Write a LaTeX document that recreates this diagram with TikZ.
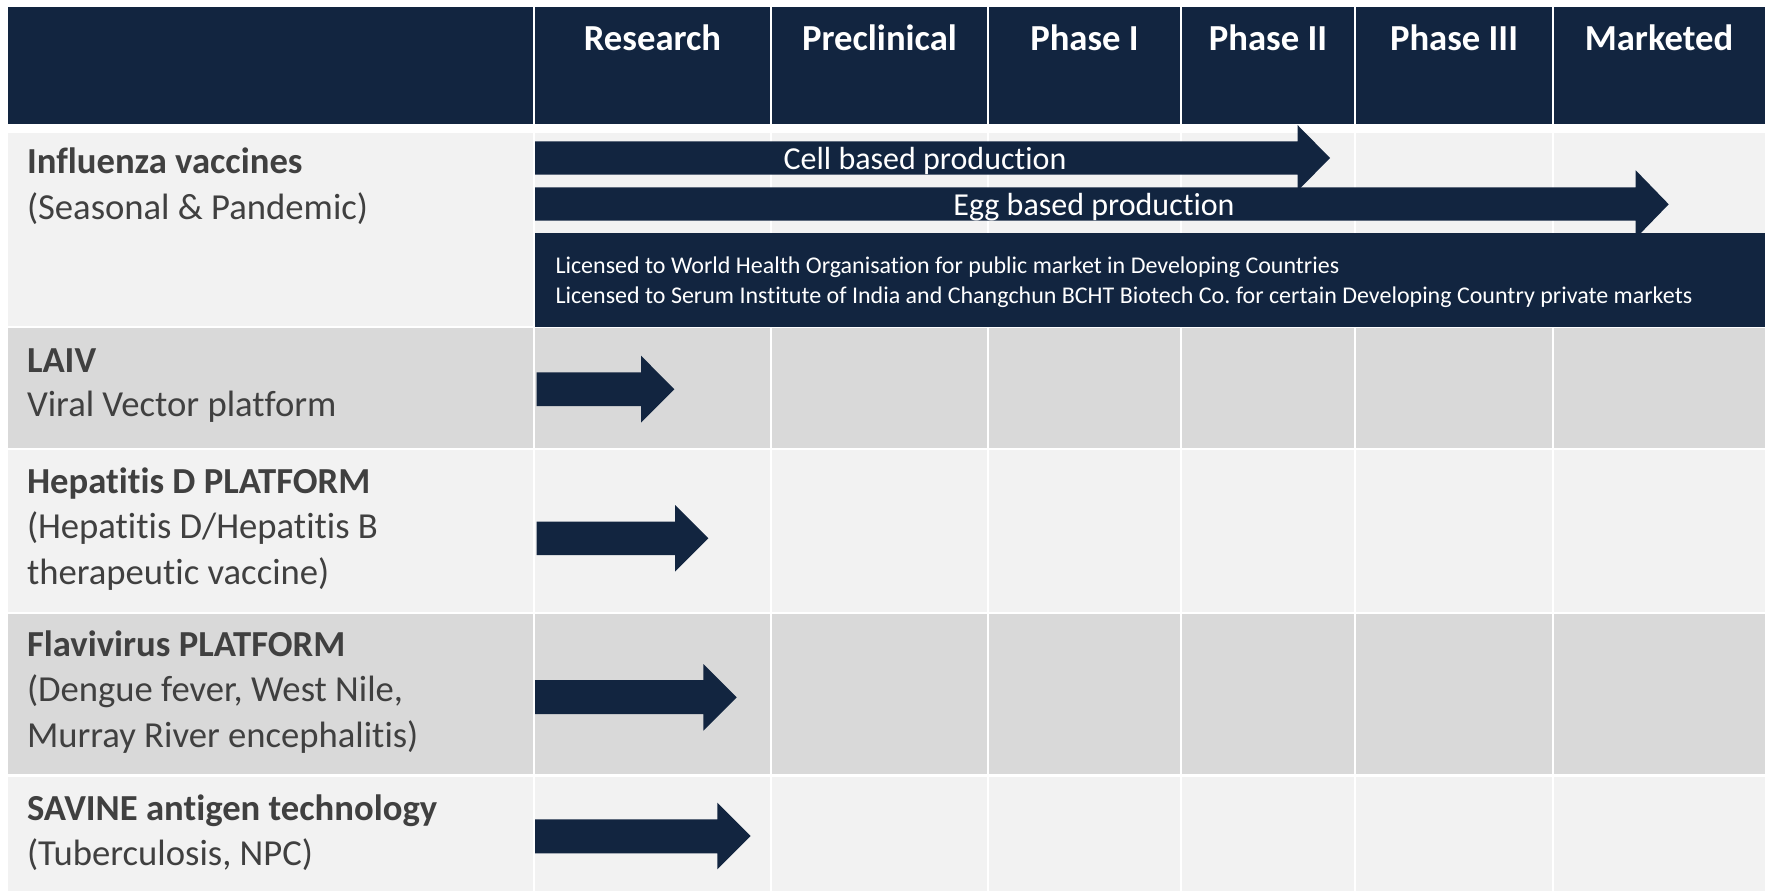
\documentclass[tikz,border=0pt]{standalone}
\usepackage{fontspec}
\setmainfont{Carlito}[Ligatures=NoCommon]
\frenchspacing

\tikzset{every picture/.style={line width=0.75pt}}
\tikzset{
	navyfill/.style={fill={rgb, 255:red, 18; green, 37; blue, 64 }, draw opacity=0},
	lightrow/.style={fill={rgb, 255:red, 242; green, 242; blue, 242 }, draw opacity=0},
	darkrow/.style={fill={rgb, 255:red, 217; green, 217; blue, 217 }, draw opacity=0},
	colsep/.style={draw={rgb, 255:red, 255; green, 255; blue, 255 }, line width=1.5pt},
	hdr/.style={color={rgb, 255:red, 255; green, 255; blue, 255 }, font=\bfseries\fontsize{27.5}{33}\selectfont, anchor=base, inner sep=0pt},
	lbl/.style={color={rgb, 255:red, 64; green, 64; blue, 64 }, font=\fontsize{27.5}{33}\selectfont, anchor=base west, inner sep=0pt},
	prod/.style={color={rgb, 255:red, 255; green, 255; blue, 255 }, font=\fontsize{24}{29}\selectfont, anchor=base, inner sep=0pt},
	lic/.style={color={rgb, 255:red, 255; green, 255; blue, 255 }, font=\fontsize{18}{21}\selectfont, anchor=base west, inner sep=0pt}
}

\begin{document}
\begin{tikzpicture}[x=0.75pt,y=0.75pt,yscale=-1,xscale=1]
	\useasboundingbox (0,0) rectangle (1765,891);

	%Shape: Rectangle [header band]
	\draw [navyfill] (8,7) rectangle (1765,124);
	%Shape: Rectangle [rows]
	\draw [lightrow] (8,133) rectangle (1765,325.5);
	\draw [darkrow] (8,328) rectangle (1765,447.5);
	\draw [lightrow] (8,450) rectangle (1765,611.5);
	\draw [darkrow] (8,613.5) rectangle (1765,774);
	\draw [lightrow] (8,777) rectangle (1765,891);
	%Straight Lines [column separators]
	\draw [colsep] (534,7) -- (534,891);
	\draw [colsep] (771,7) -- (771,891);
	\draw [colsep] (988,7) -- (988,891);
	\draw [colsep] (1181,7) -- (1181,891);
	\draw [colsep] (1355,7) -- (1355,891);
	\draw [colsep] (1553,7) -- (1553,891);

	%Shape: Right Arrow [cell based]
	\draw [navyfill] (535,141.3) -- (1297.5,141.3) -- (1297.5,125) -- (1330,158) -- (1297.5,191) -- (1297.5,174.7) -- (535,174.7) -- cycle ;
	%Shape: Right Arrow [egg based]
	\draw [navyfill] (535,187.3) -- (1635.7,187.3) -- (1635.7,170.3) -- (1668.7,204.3) -- (1635.7,238.3) -- (1635.7,220.7) -- (535,220.7) -- cycle ;
	%Shape: Rectangle [licence box]
	\draw [navyfill] (535,232.7) rectangle (1765,326.7);
	%Shape: Right Arrow [LAIV]
	\draw [navyfill] (536.7,372.3) -- (641,372.3) -- (641,355.7) -- (674.3,389.2) -- (641,422.7) -- (641,406) -- (536.7,406) -- cycle ;
	%Shape: Right Arrow [hepatitis D]
	\draw [navyfill] (536.7,521.7) -- (675,521.7) -- (675,505) -- (708.3,538.3) -- (675,571.7) -- (675,555) -- (536.7,555) -- cycle ;
	%Shape: Right Arrow [flavivirus]
	\draw [navyfill] (535,680) -- (703.3,680) -- (703.3,664) -- (736.7,697.3) -- (703.3,730.7) -- (703.3,714) -- (535,714) -- cycle ;
	%Shape: Right Arrow [SAVINE]
	\draw [navyfill] (535,819.3) -- (717.3,819.3) -- (717.3,802.7) -- (750.7,836) -- (717.3,869.3) -- (717.3,853.3) -- (535,853.3) -- cycle ;

	% Text Node
	\draw (652.5,51) node [hdr] (hresearch) {Research};
	% Text Node
	\draw (879.5,51) node [hdr] (hprecl) {Preclinical};
	% Text Node
	\draw (1084.5,51) node [hdr] (hphasei) {Phase I};
	% Text Node
	\draw (1268,51) node [hdr] (hphaseii) {Phase II};
	% Text Node
	\draw (1454,51) node [hdr] (hphaseiii) {Phase III};
	% Text Node
	\draw (1659,51) node [hdr] (hmarket) {Marketed};

	% Text Node
	\draw (26.5,174) node [lbl] (flu) {\bfseries Influenza vaccines};
	% Text Node
	\draw (26.5,219.5) node [lbl] (flusub) {(Seasonal \& Pandemic)};
	% Text Node
	\draw (26.5,372) node [lbl] (laiv) {\bfseries LAIV};
	% Text Node
	\draw (26.5,416.5) node [lbl] (laivsub) {Viral Vector platform};
	% Text Node
	\draw (26.5,493) node [lbl] (hepd) {\bfseries Hepatitis D PLATFORM};
	% Text Node
	\draw (26.5,538.5) node [lbl] (hepdsuba) {(Hepatitis D/Hepatitis B};
	% Text Node
	\draw (26.5,584) node [lbl] (hepdsubb) {therapeutic vaccine)};
	% Text Node
	\draw (26.5,656) node [lbl] (flavi) {\bfseries Flavivirus PLATFORM};
	% Text Node
	\draw (26.5,701.5) node [lbl] (flavisuba) {(Dengue fever, West Nile,};
	% Text Node
	\draw (26.5,747) node [lbl] (flavisubb) {Murray River encephalitis)};
	% Text Node
	\draw (26.5,820) node [lbl] (savine) {\bfseries SAVINE antigen technology};
	% Text Node
	\draw (26.5,865.5) node [lbl] (savinesub) {(Tuberculosis, NPC)};

	% Text Node
	\draw (925,170) node [prod] (cellprod) {Cell based production};
	% Text Node
	\draw (1094,215.5) node [prod] (eggprod) {Egg based production};
	% Text Node
	\draw (555,273.5) node [lic] (lica) {Licensed to World Health Organisation for public market in Developing Countries};
	% Text Node
	\draw (555,303.5) node [lic] (licb) {Licensed to Serum Institute of India and Changchun BCHT Biotech Co. for certain Developing Country private markets};

\end{tikzpicture}
\end{document}
